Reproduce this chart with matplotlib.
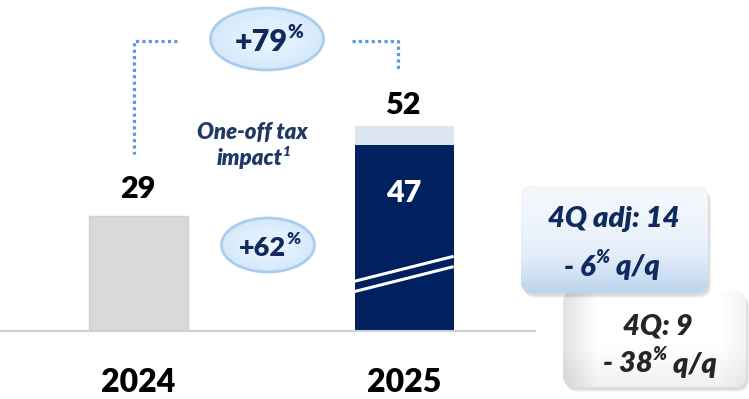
import numpy as np
import matplotlib.pyplot as plt
from matplotlib.patches import Ellipse, FancyBboxPatch
from matplotlib.colors import LinearSegmentedColormap

plt.rcParams['font.family'] = ['Lato', 'DejaVu Sans']

# Net profit, bn
years = ['2024', '2025']
totals = [29, 52]
adjusted_2025 = 47
growth_total = '+79'
growth_adj = '+62'
box_adj = ['4Q adj: 14', '- 6', ' q/q']
box_rep = ['4Q: 9', '- 38', ' q/q']

NAVY = '#002060'
TXT_NAVY = '#0f2a5f'
HEAVY = 800

W, H = 749, 399
fig = plt.figure(figsize=(W / 100, H / 100), dpi=100)

# bar axes: baseline at y=331 px, ~3.95 px per unit
base_px = 331
ppu = 3.95
ax = fig.add_axes([0, (H - base_px) / H, 535 / W, base_px / H])
ax.set_xlim(-0.519, 1.492)
ax.set_ylim(0, base_px / ppu)
for s in ['top', 'right', 'left']:
    ax.spines[s].set_visible(False)
ax.spines['bottom'].set_color('#d0d0d0')
ax.spines['bottom'].set_linewidth(1.5)
ax.set_xticks([0, 1])
ax.set_xticklabels(years, fontsize=23, fontweight=HEAVY)
ax.tick_params(axis='x', length=0, pad=27)
ax.set_yticks([])
ax.patch.set_alpha(0)

bw = 0.372
ax.bar(0, totals[0], width=bw, color='#d9d9d9', edgecolor='#c8d6c2', linewidth=1)
ax.bar(1, adjusted_2025, width=bw, color=NAVY, linewidth=0)
ax.bar(1, totals[1] - adjusted_2025, bottom=adjusted_2025, width=bw,
       color='#dce6f2', linewidth=0)

ax.annotate(str(totals[0]), (0, totals[0]), xytext=(0, 13), textcoords='offset pixels',
            ha='center', va='bottom', fontsize=22, fontweight=HEAVY, color='black')
ax.annotate(str(totals[1]), (1, totals[1]), xytext=(0, 7), textcoords='offset pixels',
            ha='center', va='bottom', fontsize=22, fontweight=HEAVY, color='black')
ax.annotate(str(adjusted_2025), (1, adjusted_2025), xytext=(0, -48), textcoords='offset pixels',
            ha='center', va='center', fontsize=22, fontweight=HEAVY, color='white')

# axis-break marks across the 2025 bar
for dy in (0, -2.6):
    ax.plot([1 - bw / 2, 1 + bw / 2], [12.6 + dy, 18.9 + dy], color='white', lw=2.2,
            solid_capstyle='butt', clip_on=False)

# overlay in pixel coordinates for callouts
ov = fig.add_axes([0, 0, 1, 1])
ov.set_xlim(0, W)
ov.set_ylim(H, 0)
ov.axis('off')
ov.patch.set_alpha(0)
renderer = fig.canvas.get_renderer()


def runs_text(x, y, runs, size, color, style='normal', zorder=10):
    """Centre a line made of normal and superscript runs at (x, y)."""
    px = size * 100 / 72
    base = y + 0.36 * px
    items = []
    for s, sup in runs:
        t = ov.text(0, 0, s, fontsize=size * (0.62 if sup else 1), fontweight=HEAVY,
                    style=style, color=color, ha='left', va='baseline', zorder=zorder)
        items.append((t, sup, t.get_window_extent(renderer).width))
    cur = x - sum(w for _, _, w in items) / 2
    for t, sup, w in items:
        t.set_position((cur, base - (0.42 * px if sup else 0)))
        cur += w


def gradient_fill(patch, x0, x1, y0, y1, arr, cmap):
    im = ov.imshow(arr, extent=(x0, x1, y1, y0), cmap=cmap, vmin=0, vmax=1,
                   aspect='auto', interpolation='bicubic', zorder=patch.get_zorder())
    im.set_clip_path(patch)


def bubble(cx, cy, w, h, label, size):
    e = Ellipse((cx, cy), w, h, facecolor='#deefff', edgecolor='none', zorder=3)
    ov.add_patch(e)
    yy, xx = np.mgrid[-1:1:60j, -1:1:80j]
    r = np.clip(np.sqrt(xx ** 2 + yy ** 2), 0, 1)
    cm = LinearSegmentedColormap.from_list('b', ['#eef7ff', '#d5e9fb'])
    gradient_fill(e, cx - w / 2, cx + w / 2, cy - h / 2, cy + h / 2, r, cm)
    ov.add_patch(Ellipse((cx, cy), w, h, facecolor='none', edgecolor='#a9cdee', lw=2, zorder=4))
    runs_text(cx + 2, cy + 1, [(label, False), ('%', True)], size, TXT_NAVY, zorder=5)


bubble(267, 39, 113, 62, growth_total, 22)
bubble(268, 245, 93, 54, growth_adj, 19.5)

# dotted connectors
dot = dict(color='#5b9bd5', lw=2.3, linestyle=(0, (1, 1)), dash_capstyle='butt')
ov.plot([177, 134, 134], [41, 41, 154], **dot)
ov.plot([352, 398, 398], [41, 41, 70], **dot)

runs_text(252, 131, [('One-off tax', False)], 16, '#1f3864', style='italic')
runs_text(254, 157, [('impact', False), ('1', True)], 16, '#1f3864', style='italic')


# quarterly boxes
def rbox(x0, y0, x1, y1, arr, colors, zorder):
    for k in range(6, 0, -1):
        sh = FancyBboxPatch((x0 + 1 + k * 0.4, y0 + 2 + k * 0.5), x1 - x0, y1 - y0,
                            boxstyle='round,pad=0,rounding_size=12', facecolor='black',
                            edgecolor='none', alpha=0.025, zorder=zorder - 1)
        ov.add_patch(sh)
    p = FancyBboxPatch((x0, y0), x1 - x0, y1 - y0, boxstyle='round,pad=0,rounding_size=12',
                       facecolor=colors[-1], edgecolor='none', zorder=zorder)
    ov.add_patch(p)
    gradient_fill(p, x0, x1, y0, y1, arr, LinearSegmentedColormap.from_list('g', colors))


# grey box (behind)
yy, xx = np.mgrid[0:1:50j, 0:1:90j]
grey = np.clip(1 - (np.clip(1 - xx / 0.18, 0, 1) * 0.7 + np.clip((yy - 0.6) / 0.4, 0, 1) * 0.35
                    + np.clip((xx - 0.85) / 0.15, 0, 1) * 0.25), 0, 1)
rbox(563, 291, 746, 387, grey, ['#d6d6d6', '#ffffff'], 6)

# blue box (front)
yy, xx = np.mgrid[0:1:50j, 0:1:90j]
blue = yy ** 1.6
rbox(521, 186, 708, 293, blue, ['#f4f8fd', '#e3edf8', '#bcd5ef'], 8)

runs_text(614, 217, [(box_adj[0], False)], 21, TXT_NAVY, style='italic')
runs_text(612, 265, [(box_adj[1], False), ('%', True), (box_adj[2], False)], 21, TXT_NAVY,
          style='italic')
runs_text(658, 324, [(box_rep[0], False)], 21, '#262626', style='italic')
runs_text(660, 362, [(box_rep[1], False), ('%', True), (box_rep[2], False)], 21, '#262626',
          style='italic')

fig.savefig('out.png', dpi=100)
